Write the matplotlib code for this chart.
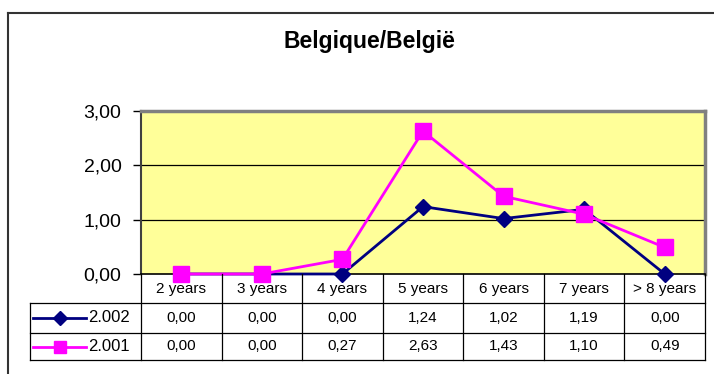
import matplotlib
matplotlib.use("Agg")
import matplotlib.pyplot as plt
from matplotlib.lines import Line2D
import numpy as np

plt.rcParams['font.family'] = ['Liberation Sans', 'DejaVu Sans']

categories = ["2 years", "3 years", "4 years", "5 years", "6 years", "7 years", "> 8 years"]
series_names = ["2.002", "2.001"]
values_2002 = [0.00, 0.00, 0.00, 1.24, 1.02, 1.19, 0.00]
values_2001 = [0.00, 0.00, 0.27, 2.63, 1.43, 1.10, 0.49]
y_ticks = [0, 1, 2, 3]

W, H = 714, 374
NAVY = "#000080"
MAGENTA = "#FF00FF"


def fx(px):
    return px / W


def fy(py):
    return 1 - py / H


def fmt(v):
    return f"{v:.2f}".replace(".", ",")


fig = plt.figure(figsize=(W / 100, H / 100), dpi=100)

# frame around the whole chart (only left and top edges are in view)
fig.add_artist(Line2D([fx(8), fx(8)], [fy(13), 0], color="#333333", lw=1.5))
fig.add_artist(Line2D([fx(8), 1], [fy(13), fy(13)], color="#333333", lw=1.5))

fig.text(fx(369), fy(48), "Belgique/België", ha="center", va="baseline",
         fontsize=16.5, fontweight="bold")

# plot area
left, right, top, bottom = 141, 705, 111, 274
ax = fig.add_axes([fx(left), fy(bottom), fx(right - left), (bottom - top) / H])
ax.set_facecolor("#FFFF99")
ax.set_xlim(0, len(categories))
ax.set_ylim(0, 3)
x = np.arange(len(categories)) + 0.5

for y in y_ticks[1:-1]:
    ax.axhline(y, color="black", lw=0.9, zorder=1)

ax.plot(x, values_2002, color=NAVY, lw=2, marker="D", ms=8, zorder=3, clip_on=False)
ax.plot(x, values_2001, color=MAGENTA, lw=2, marker="s", ms=11, zorder=4, clip_on=False)

ax.set_yticks(y_ticks)
ax.set_yticklabels([fmt(v) for v in y_ticks], fontsize=14)
ax.set_xticks([])
ax.tick_params(axis="y", direction="out", length=6, width=1, pad=8)
ax.spines["top"].set_color("#808080")
ax.spines["right"].set_color("#808080")
ax.spines["top"].set_linewidth(2.5)
ax.spines["right"].set_linewidth(2.5)
ax.spines["left"].set_color("#404040")
ax.spines["left"].set_linewidth(1.5)
ax.spines["bottom"].set_linewidth(1.2)

# data table under the plot
col_w = (right - left) / len(categories)
row_y = [274, 303, 333, 360]
legend_left = 30
lc = "black"
lw = 0.9


def hline(x0, x1, y):
    fig.add_artist(Line2D([fx(x0), fx(x1)], [fy(y), fy(y)], color=lc, lw=lw))


def vline(xp, y0, y1):
    fig.add_artist(Line2D([fx(xp), fx(xp)], [fy(y0), fy(y1)], color=lc, lw=lw))


for i in range(len(categories) + 1):
    vline(left + i * col_w, row_y[0], row_y[3])
vline(legend_left, row_y[1], row_y[3])
hline(legend_left, right, row_y[1])
hline(legend_left, right, row_y[2])
hline(legend_left, right, row_y[3])

for i, cat in enumerate(categories):
    cx = left + (i + 0.5) * col_w
    fig.text(fx(cx), fy((row_y[0] + row_y[1]) / 2), cat, ha="center", va="center", fontsize=11)

rows = [(values_2002, NAVY, "D", 7), (values_2001, MAGENTA, "s", 9)]
for r, (vals, color, mk, ms) in enumerate(rows):
    cy = (row_y[r + 1] + row_y[r + 2]) / 2
    fig.add_artist(Line2D([fx(33), fx(86)], [fy(cy), fy(cy)], color=color, lw=2))
    fig.add_artist(Line2D([fx(59.5)], [fy(cy)], color=color, marker=mk, ms=ms, lw=0))
    fig.text(fx(88), fy(cy), series_names[r], ha="left", va="center", fontsize=12)
    for i, v in enumerate(vals):
        cx = left + (i + 0.5) * col_w
        fig.text(fx(cx), fy(cy), fmt(v), ha="center", va="center", fontsize=11)

fig.savefig("out.png", dpi=100)
